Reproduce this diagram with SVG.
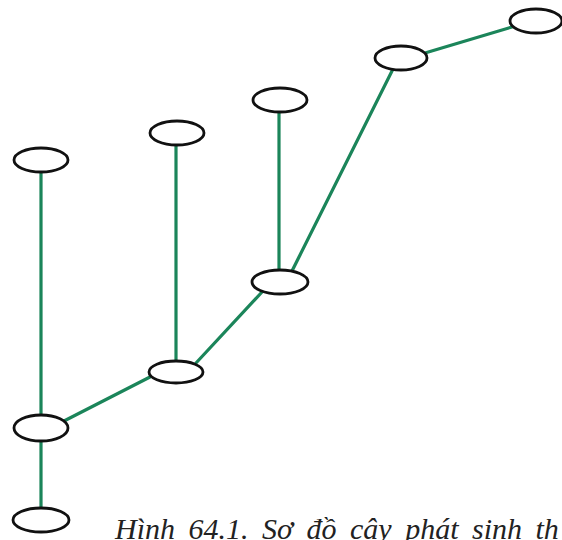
<svg xmlns="http://www.w3.org/2000/svg" width="562" height="540" viewBox="0 0 562 540">
<style>
.edge{stroke:#1b855a;stroke-width:3.2;fill:none;stroke-linecap:round}
.node{fill:#ffffff;stroke:#111111;stroke-width:2.8}
.cap{font-family:"Liberation Serif","DejaVu Serif",serif;font-style:italic;font-size:30px;fill:#222222}
</style>
<rect width="562" height="540" fill="#ffffff"/>
<g id="connectors">
<line class="edge" x1="41" y1="172" x2="41" y2="416"/>
<line class="edge" x1="176" y1="145" x2="176" y2="360"/>
<line class="edge" x1="279" y1="112" x2="279" y2="270"/>
<line class="edge" x1="292" y1="271" x2="393" y2="69"/>
<line class="edge" x1="425" y1="53" x2="512" y2="27"/>
<line class="edge" x1="262" y1="292" x2="196" y2="363"/>
<line class="edge" x1="150" y1="377" x2="64" y2="421"/>
<line class="edge" x1="41" y1="441" x2="41" y2="508"/>
</g>
<g id="n1"><ellipse class="node" cx="41" cy="160" rx="27" ry="12"/></g>
<g id="n2"><ellipse class="node" cx="177" cy="133" rx="27" ry="12"/></g>
<g id="n3"><ellipse class="node" cx="280" cy="100" rx="27" ry="12"/></g>
<g id="n4"><ellipse class="node" cx="401" cy="58" rx="26" ry="12"/></g>
<g id="n5"><ellipse class="node" cx="536" cy="21" rx="26" ry="12"/></g>
<g id="n6"><ellipse class="node" cx="280" cy="282" rx="28" ry="12"/></g>
<g id="n7"><ellipse class="node" cx="176" cy="372" rx="27" ry="11"/></g>
<g id="n8"><ellipse class="node" cx="41" cy="428" rx="27" ry="13"/></g>
<g id="n9"><ellipse class="node" cx="41" cy="520" rx="28" ry="12"/></g>
<text class="cap" x="115" y="539" word-spacing="6">Hình 64.1. Sơ đồ cây phát sinh th</text>
</svg>
